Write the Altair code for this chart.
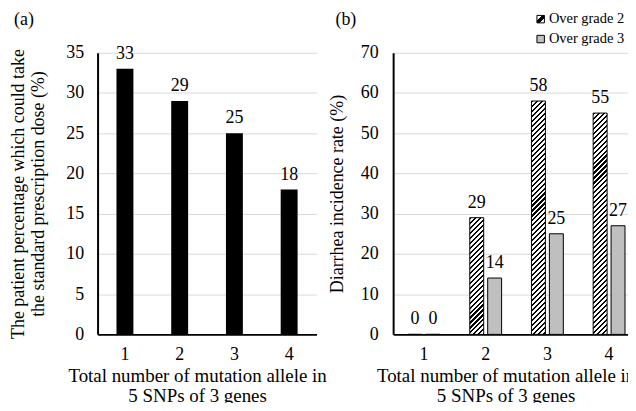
import altair as alt
import pandas as pd

# ---------------- data ----------------
cats = ["1", "2", "3", "4"]
pct_std_dose = [33, 29, 25, 18]
series = ["Over grade 2", "Over grade 3"]
grade2 = [0, 29, 58, 55]
grade3 = [0, 14, 25, 27]
left_yticks = [0, 5, 10, 15, 20, 25, 30, 35]
right_yticks = [0, 10, 20, 30, 40, 50, 60, 70]

left_ytitle = ["The patient percentage which could take",
               "the standard prescription dose (%)"]
right_ytitle = "Diarrhea incidence rate (%)"
xtitle = ["Total number of mutation allele in", "5 SNPs of 3 genes"]

# ---------------- style ----------------
FONT = "Liberation Serif"
LW, LH = 220, 283
RW, RH = 248, 283
LMAX, RMAX = 35, 70
BAR_W = 14
GRAY = "#bfbfbf"
PERIOD = 5.0          # vertical hatch period in px
SEG_PX = 20.0         # hatch tile height (multiple of PERIOD)
OVERLAP_PX = 1.0


def hatch_px(h, w=BAR_W, period=PERIOD, frac=0.42):
    """Diagonal '/' hatch as a hard-stop linear gradient for a w x h px box."""
    if h <= 0:
        return "white"
    a, b = 1.0 / h, 1.0 / w
    c = (a + b) / (a * a + b * b)
    n = (w + h) / period
    stops = []
    k = 0
    while k < n:
        s = k / n
        m = min((k + frac) / n, 1.0)
        e = min((k + 1) / n, 1.0)
        stops += [{"offset": s, "color": "black"},
                  {"offset": m, "color": "black"},
                  {"offset": m, "color": "white"},
                  {"offset": e, "color": "white"}]
        k += 1
    return {"gradient": "linear", "x1": 0, "y1": 0,
            "x2": c * a, "y2": c * b, "stops": stops}


# ---------------- left panel ----------------
left_df = pd.DataFrame({"cat": cats, "v": pct_std_dose})

xl = alt.X("cat:N",
           scale=alt.Scale(paddingInner=1 - 17 / 55, paddingOuter=(1 - 17 / 55) / 2),
           axis=alt.Axis(title=xtitle, labelAngle=0, grid=False, titleX=100))
yl = alt.Y("v:Q", scale=alt.Scale(domain=[0, LMAX], nice=False),
           axis=alt.Axis(values=left_yticks, title=left_ytitle, grid=True,
                         labelPadding=14, titlePadding=18))

lbars = alt.Chart(left_df).mark_bar(color="black").encode(x=xl, y=yl)
ltext = alt.Chart(left_df).mark_text(
    dy=-10, baseline="alphabetic", font=FONT, fontSize=18, color="black"
).encode(x="cat:N", y="v:Q", text="v:Q")

left = (lbars + ltext).properties(
    width=LW, height=LH,
    title=alt.TitleParams("(a)", anchor="start", frame="group", dx=-84, dy=-11),
)

# ---------------- right panel ----------------
rows = []
for i, c in enumerate(cats):
    rows.append({"cat": c, "s": series[0], "v": grade2[i]})
    rows.append({"cat": c, "s": series[1], "v": grade3[i]})
right_df = pd.DataFrame(rows)

# hatch tiles for the "Over grade 2" bars (cut from the top so stripes stay continuous)
px_per_unit = RH / RMAX
seg_u = SEG_PX / px_per_unit
ovl_u = OVERLAP_PX / px_per_unit
tiles = []
hatch_conds = []
for c, v in zip(cats, grade2):
    if v <= 0:
        continue
    top = float(v)
    while top - seg_u > 0:
        tiles.append({"cat": c, "s": series[0], "y0": max(top - seg_u - ovl_u, 0.0),
                      "y1": top, "kind": "full"})
        top -= seg_u
    tiles.append({"cat": c, "s": series[0], "y0": 0.0, "y1": top, "kind": "part" + c})
    hatch_conds.append({"test": f"datum.kind === 'part{c}'",
                        "value": hatch_px(top * px_per_unit)})
hatch_conds.insert(0, {"test": "datum.kind === 'full'",
                       "value": hatch_px(SEG_PX + OVERLAP_PX)})
tiles_df = pd.DataFrame(tiles)

fill_scale = {"domain": series, "range": ["transparent", GRAY]}

legend_symbol_fill = (
    "datum.value === '" + series[0] + "' ? {gradient: 'linear', x1: 0, y1: 0, x2: 1, y2: 1, "
    "stops: [{offset: 0, color: 'white'}, {offset: 0.33, color: 'white'}, "
    "{offset: 0.33, color: 'black'}, {offset: 0.67, color: 'black'}, "
    "{offset: 0.67, color: 'white'}, {offset: 1, color: 'white'}]} : '" + GRAY + "'"
)

ry_scale = alt.Scale(domain=[0, RMAX], nice=False)
ry_axis = alt.Axis(values=right_yticks, title=right_ytitle, grid=True,
                   labelPadding=15, titlePadding=14)

xr = alt.X("cat:N",
           scale=alt.Scale(paddingInner=30 / 62, paddingOuter=15 / 62),
           axis=alt.Axis(title=xtitle, labelAngle=0, grid=False, titleX=113))
xo = alt.XOffset("s:N", scale=alt.Scale(domain=series, paddingInner=4 / 18, paddingOuter=0))
yr = alt.Y("v:Q", scale=ry_scale, axis=ry_axis)

rhatch = alt.Chart(tiles_df).mark_bar(strokeWidth=0).encode(
    x=xr, xOffset=xo,
    y=alt.Y("y0:Q", scale=ry_scale, axis=ry_axis), y2="y1:Q",
    fill={"condition": hatch_conds, "value": "white"},
)

rbars = alt.Chart(right_df).mark_bar(stroke="black", strokeWidth=1).encode(
    x=xr, xOffset=xo, y=yr,
    fill=alt.Fill("s:N", scale=alt.Scale(**fill_scale), legend=None))
rtext = alt.Chart(right_df).mark_text(
    dy=-10, baseline="alphabetic", font=FONT, fontSize=18, color="black"
).encode(x="cat:N", xOffset=xo, y="v:Q", text="v:Q")

# invisible layer that only carries the legend (shape domain left data-driven
# so that it is not merged with the disabled fill legend)
rlegend = alt.Chart(right_df).mark_point(size=0, opacity=0, filled=True).encode(
    x="cat:N", xOffset=xo, y="v:Q",
    fill=alt.Fill("s:N", scale=alt.Scale(**fill_scale), legend=None),
    shape=alt.Shape(
        "s:N", scale=alt.Scale(range=["square", "square"]),
        legend=alt.Legend(
            title=None, orient="none", legendX=141, legendY=-41, padding=0,
            symbolSize=56, symbolStrokeColor="black", symbolStrokeWidth=1,
            symbolFillColor=alt.expr(legend_symbol_fill), symbolOpacity=1,
            labelFont=FONT, labelFontSize=14.5, labelColor="black",
            rowPadding=5, labelOffset=1,
        ),
    ),
)

right = (rhatch + rbars + rtext + rlegend).properties(
    width=RW, height=RH,
    title=alt.TitleParams("(b)", anchor="start", frame="group", dx=-58, dy=21),
)

chart = alt.hconcat(left, right, spacing=77, bounds="flush").resolve_scale(
    shape="independent", fill="independent"
).properties(
    padding={"left": 1, "top": 1, "right": -13, "bottom": -4}
).configure_view(stroke="transparent").configure_axis(
    labelFont=FONT, labelFontSize=18, labelColor="black",
    titleFont=FONT, titleFontSize=18, titleFontWeight="normal", titleColor="black",
    titleLineHeight=20,
    domainColor="black", domainWidth=2, ticks=False, tickSize=0,
    gridColor="#d9d9d9", gridWidth=1,
).configure_axisX(labelPadding=11, titlePadding=3, titleFontSize=19,
                  titleLineHeight=20).configure_title(
    font=FONT, fontSize=18, fontWeight="normal", color="black"
)

chart.save("out.html", embed_options={"renderer": "svg", "actions": False})
